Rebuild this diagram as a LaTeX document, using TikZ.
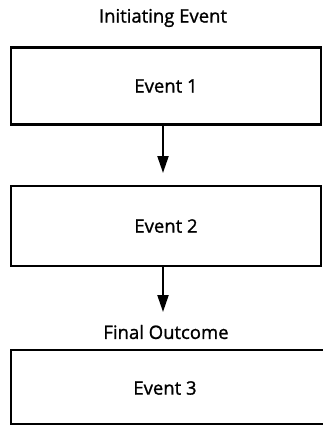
\documentclass[tikz,border=0pt]{standalone}
\usepackage{fontspec}
\setmainfont{Open Sans}[FakeBold=1.2]
\usetikzlibrary{arrows.meta}
\begin{document}
\begin{tikzpicture}[x=1pt,y=-1pt,
  eventbox/.style={draw=black,line width=2.2pt,minimum width=310pt,inner sep=0pt,
    font=\fontsize{18.5}{22}\selectfont},
  caption/.style={font=\fontsize{18.5}{22}\selectfont,inner sep=0pt},
  flow/.style={line width=2.2pt,-{Triangle[length=17pt,width=11pt]}}]
  \useasboundingbox (0,0) rectangle (322,425);
  \node[caption] (init) at (163,18) {Initiating Event};
  \node[eventbox,minimum height=77pt] (e1) at (166,86) {Event 1};
  \node[eventbox,minimum height=80pt] (e2) at (166,226) {Event 2};
  \node[caption] (final) at (166,332) {Final Outcome};
  % the last box runs past the right edge of the page
  \node[eventbox,minimum height=74pt,minimum width=330pt] (e3) at (176,387) {};
  \node[font=\fontsize{18.5}{22}\selectfont,inner sep=0pt] (t3) at (165,388) {Event 3};
  \coordinate (tip1) at (163,173);
  \coordinate (tip2) at (163,312);
  \draw[flow] (e1.south -| tip1) -- (tip1);
  \draw[flow] (e2.south -| tip2) -- (tip2);
\end{tikzpicture}
\end{document}
